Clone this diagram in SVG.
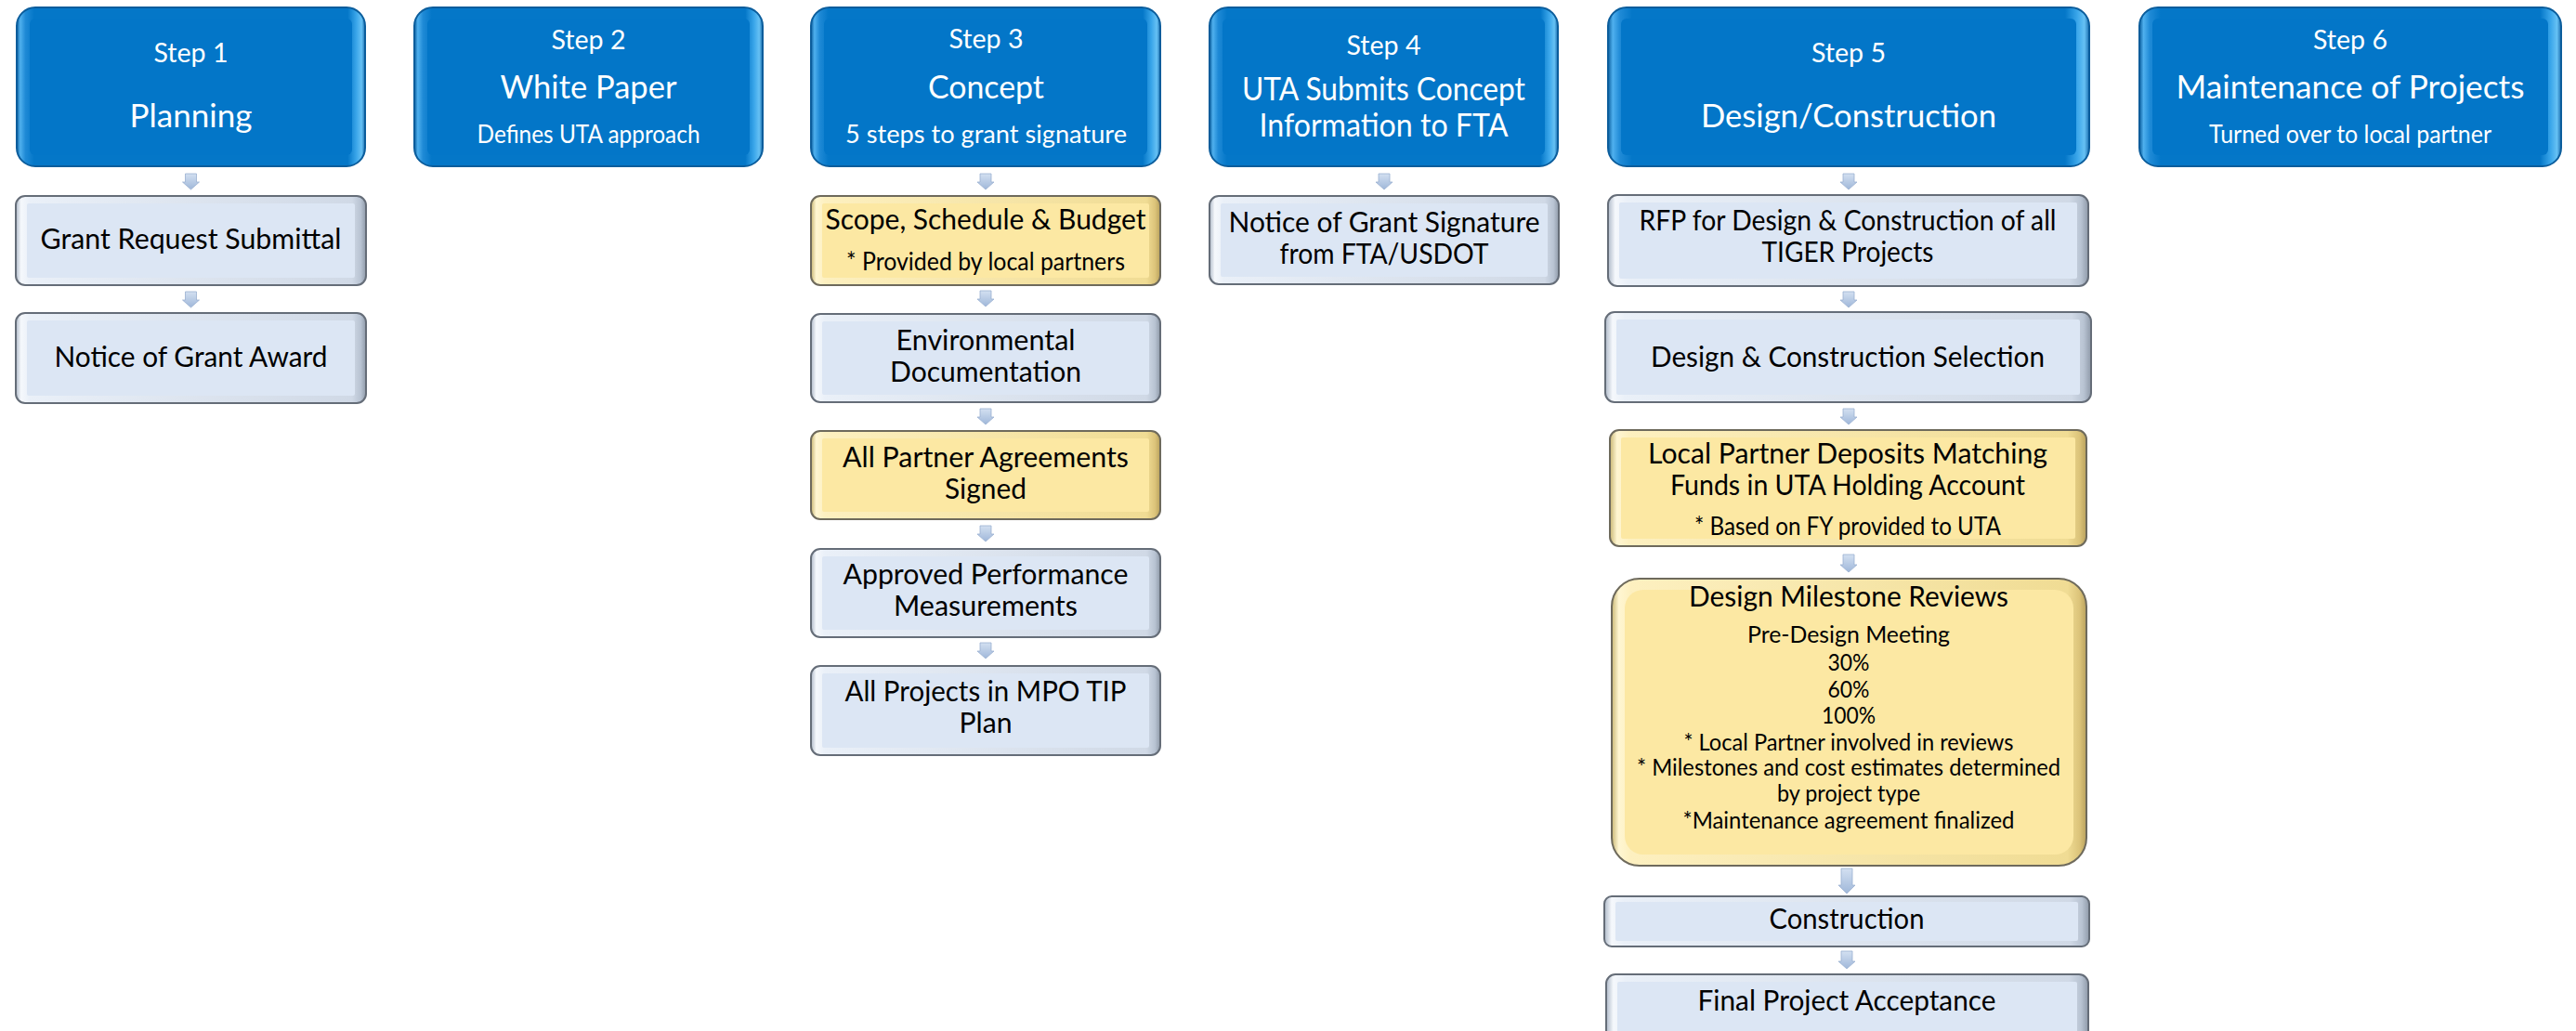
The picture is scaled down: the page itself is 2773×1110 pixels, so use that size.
<svg xmlns="http://www.w3.org/2000/svg" width="2773" height="1110" viewBox="0 0 2773 1110">
<style>
text{font-family:Lato,"Open Sans","Liberation Sans",sans-serif;text-anchor:middle}
.w{fill:#ffffff}
.k{fill:#000000}
.s1{font-size:29px}
.s2{font-size:34px}
.s3{font-size:26px}
.m{font-size:30px}
.n{font-size:25px}
.p{font-size:27px}
.blue{fill:url(#gBlue);stroke:#0b5d9c;stroke-width:2}
.bluef{fill:#0376c8}
.lb{fill:url(#gLB);stroke:#656d78;stroke-width:2}
.lbf{fill:#dce6f4}
.gd{fill:url(#gGD);stroke:#6e6a5c;stroke-width:2}
.gdf{fill:#fce8a3}
.arr{fill:url(#gArr);stroke:#9ab0d0;stroke-width:0.8}
</style>
<defs>
<linearGradient id="gBlue" x1="0" y1="0" x2="1" y2="0">
<stop offset="0" stop-color="#0a5e9e"/>
<stop offset="0.01" stop-color="#4fb0ee"/>
<stop offset="0.025" stop-color="#1f8ad6"/>
<stop offset="0.05" stop-color="#0477c8"/>
<stop offset="0.95" stop-color="#0477c8"/>
<stop offset="0.975" stop-color="#3aa6ea"/>
<stop offset="0.99" stop-color="#66c1f4"/>
<stop offset="1" stop-color="#1b6fb0"/>
</linearGradient>
<linearGradient id="gLB" x1="0" y1="0" x2="1" y2="0">
<stop offset="0" stop-color="#aeb9c8"/>
<stop offset="0.015" stop-color="#f5f8fc"/>
<stop offset="0.04" stop-color="#eaf0f8"/>
<stop offset="0.96" stop-color="#d0d9e6"/>
<stop offset="0.985" stop-color="#b8c3d2"/>
<stop offset="1" stop-color="#8f9aa9"/>
</linearGradient>
<linearGradient id="gGD" x1="0" y1="0" x2="1" y2="0">
<stop offset="0" stop-color="#c9b774"/>
<stop offset="0.015" stop-color="#fff6d2"/>
<stop offset="0.04" stop-color="#fdf0c0"/>
<stop offset="0.96" stop-color="#f0dc94"/>
<stop offset="0.985" stop-color="#dcc47a"/>
<stop offset="1" stop-color="#b9a15c"/>
</linearGradient>
<linearGradient id="gArr" x1="0" y1="0" x2="0" y2="1">
<stop offset="0" stop-color="#d3e0f1"/>
<stop offset="1" stop-color="#9fb7d9"/>
</linearGradient>
<path id="a17" class="arr" d="M-6,0 H6 V9 H9 L0,17 L-9,9 H-6 Z"/>
<path id="a19" class="arr" d="M-6,0 H6 V11 H9 L0,19 L-9,11 H-6 Z"/>
<path id="a27" class="arr" d="M-6,0 H6 V18 H9 L0,27 L-9,18 H-6 Z"/>
</defs>
<rect width="2773" height="1110" fill="#ffffff"/>

<g id="connectors">
<use href="#a17" x="205.5" y="187"/>
<use href="#a17" x="205.5" y="314"/>
<use href="#a17" x="1061" y="187"/>
<use href="#a17" x="1061" y="313"/>
<use href="#a17" x="1061" y="440"/>
<use href="#a17" x="1061" y="566"/>
<use href="#a17" x="1061" y="692"/>
<use href="#a17" x="1490" y="187"/>
<use href="#a17" x="1990" y="187"/>
<use href="#a17" x="1990" y="314"/>
<use href="#a17" x="1990" y="440"/>
<use href="#a19" x="1990" y="597"/>
<use href="#a27" x="1988" y="935"/>
<use href="#a19" x="1988" y="1024"/>
</g>

<g id="step1">
<rect class="blue" x="18" y="8" width="375" height="171" rx="20"/>
<rect class="bluef" x="32" y="20" width="347" height="147" rx="6"/>
<text class="w s1" x="205.5" y="67" textLength="80" lengthAdjust="spacingAndGlyphs">Step 1</text>
<text class="w s2" x="205.5" y="137" textLength="132" lengthAdjust="spacingAndGlyphs">Planning</text>
</g>
<g id="grant-request">
<rect class="lb" x="17" y="211" width="377" height="96" rx="10"/>
<rect class="lbf" x="29" y="219" width="353" height="80" rx="2"/>
<text class="k m" x="205.5" y="268" textLength="324" lengthAdjust="spacingAndGlyphs">Grant Request Submittal</text>
</g>
<g id="grant-award">
<rect class="lb" x="17" y="337" width="377" height="97" rx="10"/>
<rect class="lbf" x="29" y="345" width="353" height="81" rx="2"/>
<text class="k m" x="205.5" y="395" textLength="294" lengthAdjust="spacingAndGlyphs">Notice of Grant Award</text>
</g>

<g id="step2">
<rect class="blue" x="446" y="8" width="375" height="171" rx="20"/>
<rect class="bluef" x="460" y="20" width="347" height="147" rx="6"/>
<text class="w s1" x="633.5" y="53" textLength="80" lengthAdjust="spacingAndGlyphs">Step 2</text>
<text class="w s2" x="633.5" y="106" textLength="190" lengthAdjust="spacingAndGlyphs">White Paper</text>
<text class="w s3" x="633.5" y="154" textLength="240" lengthAdjust="spacingAndGlyphs">Defines UTA approach</text>
</g>

<g id="step3">
<rect class="blue" x="873" y="8" width="376" height="171" rx="20"/>
<rect class="bluef" x="887" y="20" width="348" height="147" rx="6"/>
<text class="w s1" x="1061.5" y="52" textLength="80" lengthAdjust="spacingAndGlyphs">Step 3</text>
<text class="w s2" x="1061.5" y="106" textLength="125" lengthAdjust="spacingAndGlyphs">Concept</text>
<text class="w s3" x="1061.5" y="154" textLength="303" lengthAdjust="spacingAndGlyphs">5 steps to grant signature</text>
</g>
<g id="scope">
<rect class="gd" x="873" y="211" width="376" height="96" rx="10"/>
<rect class="gdf" x="885" y="219" width="352" height="80" rx="2"/>
<text class="k m" x="1061" y="247" textLength="345" lengthAdjust="spacingAndGlyphs">Scope, Schedule &amp; Budget</text>
<text class="k p" x="1061" y="291" textLength="300" lengthAdjust="spacingAndGlyphs">* Provided by local partners</text>
</g>
<g id="environmental">
<rect class="lb" x="873" y="338" width="376" height="95" rx="10"/>
<rect class="lbf" x="885" y="346" width="352" height="79" rx="2"/>
<text class="k m" x="1061" y="377" textLength="193" lengthAdjust="spacingAndGlyphs">Environmental</text>
<text class="k m" x="1061" y="411" textLength="206" lengthAdjust="spacingAndGlyphs">Documentation</text>
</g>
<g id="agreements">
<rect class="gd" x="873" y="464" width="376" height="95" rx="10"/>
<rect class="gdf" x="885" y="472" width="352" height="79" rx="2"/>
<text class="k m" x="1061" y="503" textLength="308" lengthAdjust="spacingAndGlyphs">All Partner Agreements</text>
<text class="k m" x="1061" y="537" textLength="88" lengthAdjust="spacingAndGlyphs">Signed</text>
</g>
<g id="performance">
<rect class="lb" x="873" y="591" width="376" height="95" rx="10"/>
<rect class="lbf" x="885" y="599" width="352" height="79" rx="2"/>
<text class="k m" x="1061" y="629" textLength="307" lengthAdjust="spacingAndGlyphs">Approved Performance</text>
<text class="k m" x="1061" y="663" textLength="198" lengthAdjust="spacingAndGlyphs">Measurements</text>
</g>
<g id="mpo-tip">
<rect class="lb" x="873" y="717" width="376" height="96" rx="10"/>
<rect class="lbf" x="885" y="725" width="352" height="80" rx="2"/>
<text class="k m" x="1061" y="755" textLength="303" lengthAdjust="spacingAndGlyphs">All Projects in MPO TIP</text>
<text class="k m" x="1061" y="789" textLength="57" lengthAdjust="spacingAndGlyphs">Plan</text>
</g>

<g id="step4">
<rect class="blue" x="1302" y="8" width="375" height="171" rx="20"/>
<rect class="bluef" x="1316" y="20" width="347" height="147" rx="6"/>
<text class="w s1" x="1489.5" y="59" textLength="80" lengthAdjust="spacingAndGlyphs">Step 4</text>
<text class="w s2" x="1489.5" y="108" textLength="305" lengthAdjust="spacingAndGlyphs">UTA Submits Concept</text>
<text class="w s2" x="1489.5" y="147" textLength="268" lengthAdjust="spacingAndGlyphs">Information to FTA</text>
</g>
<g id="grant-signature">
<rect class="lb" x="1302" y="211" width="376" height="95" rx="10"/>
<rect class="lbf" x="1314" y="219" width="352" height="79" rx="2"/>
<text class="k m" x="1490" y="250" textLength="335" lengthAdjust="spacingAndGlyphs">Notice of Grant Signature</text>
<text class="k m" x="1490" y="284" textLength="225" lengthAdjust="spacingAndGlyphs">from FTA/USDOT</text>
</g>

<g id="step5">
<rect class="blue" x="1731" y="8" width="518" height="171" rx="20"/>
<rect class="bluef" x="1745" y="20" width="490" height="147" rx="6"/>
<text class="w s1" x="1990" y="67" textLength="80" lengthAdjust="spacingAndGlyphs">Step 5</text>
<text class="w s2" x="1990" y="137" textLength="318" lengthAdjust="spacingAndGlyphs">Design/Construction</text>
</g>
<g id="rfp">
<rect class="lb" x="1731" y="210" width="517" height="98" rx="10"/>
<rect class="lbf" x="1743" y="218" width="493" height="82" rx="2"/>
<text class="k m" x="1989" y="248" textLength="449" lengthAdjust="spacingAndGlyphs">RFP for Design &amp; Construction of all</text>
<text class="k m" x="1989" y="282" textLength="185" lengthAdjust="spacingAndGlyphs">TIGER Projects</text>
</g>
<g id="selection">
<rect class="lb" x="1728" y="336" width="523" height="97" rx="10"/>
<rect class="lbf" x="1740" y="344" width="499" height="81" rx="2"/>
<text class="k m" x="1989" y="395" textLength="424" lengthAdjust="spacingAndGlyphs">Design &amp; Construction Selection</text>
</g>
<g id="matching-funds">
<rect class="gd" x="1733" y="463" width="513" height="125" rx="10"/>
<rect class="gdf" x="1745" y="471" width="489" height="109" rx="2"/>
<text class="k m" x="1989" y="499" textLength="430" lengthAdjust="spacingAndGlyphs">Local Partner Deposits Matching</text>
<text class="k m" x="1989" y="533" textLength="382" lengthAdjust="spacingAndGlyphs">Funds in UTA Holding Account</text>
<text class="k p" x="1989" y="576" textLength="330" lengthAdjust="spacingAndGlyphs">* Based on FY provided to UTA</text>
</g>
<g id="milestone-reviews">
<rect class="gd" x="1735" y="623" width="511" height="309" rx="30"/>
<rect class="gdf" x="1749" y="635" width="483" height="285" rx="20"/>
<text class="k m" x="1990" y="653" textLength="344" lengthAdjust="spacingAndGlyphs">Design Milestone Reviews</text>
<text class="k n" x="1990" y="692" textLength="218" lengthAdjust="spacingAndGlyphs">Pre-Design Meeting</text>
<text class="k n" x="1990" y="722" textLength="45" lengthAdjust="spacingAndGlyphs">30%</text>
<text class="k n" x="1990" y="751" textLength="45" lengthAdjust="spacingAndGlyphs">60%</text>
<text class="k n" x="1990" y="779" textLength="58" lengthAdjust="spacingAndGlyphs">100%</text>
<text class="k n" x="1990" y="808" textLength="355" lengthAdjust="spacingAndGlyphs">* Local Partner involved in reviews</text>
<text class="k n" x="1990" y="835" textLength="456" lengthAdjust="spacingAndGlyphs">* Milestones and cost estimates determined</text>
<text class="k n" x="1990" y="863" textLength="154" lengthAdjust="spacingAndGlyphs">by project type</text>
<text class="k n" x="1990" y="892" textLength="357" lengthAdjust="spacingAndGlyphs">*Maintenance agreement finalized</text>
</g>
<g id="construction">
<rect class="lb" x="1727" y="965" width="522" height="54" rx="8"/>
<rect class="lbf" x="1739" y="971" width="498" height="42" rx="2"/>
<text class="k m" x="1988" y="1000" textLength="167" lengthAdjust="spacingAndGlyphs">Construction</text>
</g>
<g id="final-acceptance">
<rect class="lb" x="1729" y="1049" width="519" height="95" rx="10"/>
<rect class="lbf" x="1741" y="1057" width="495" height="79" rx="2"/>
<text class="k m" x="1988" y="1088" textLength="321" lengthAdjust="spacingAndGlyphs">Final Project Acceptance</text>
</g>

<g id="step6">
<rect class="blue" x="2303" y="8" width="454" height="171" rx="20"/>
<rect class="bluef" x="2317" y="20" width="426" height="147" rx="6"/>
<text class="w s1" x="2530" y="53" textLength="80" lengthAdjust="spacingAndGlyphs">Step 6</text>
<text class="w s2" x="2530" y="106" textLength="375" lengthAdjust="spacingAndGlyphs">Maintenance of Projects</text>
<text class="w s3" x="2530" y="154" textLength="304" lengthAdjust="spacingAndGlyphs">Turned over to local partner</text>
</g>
</svg>
